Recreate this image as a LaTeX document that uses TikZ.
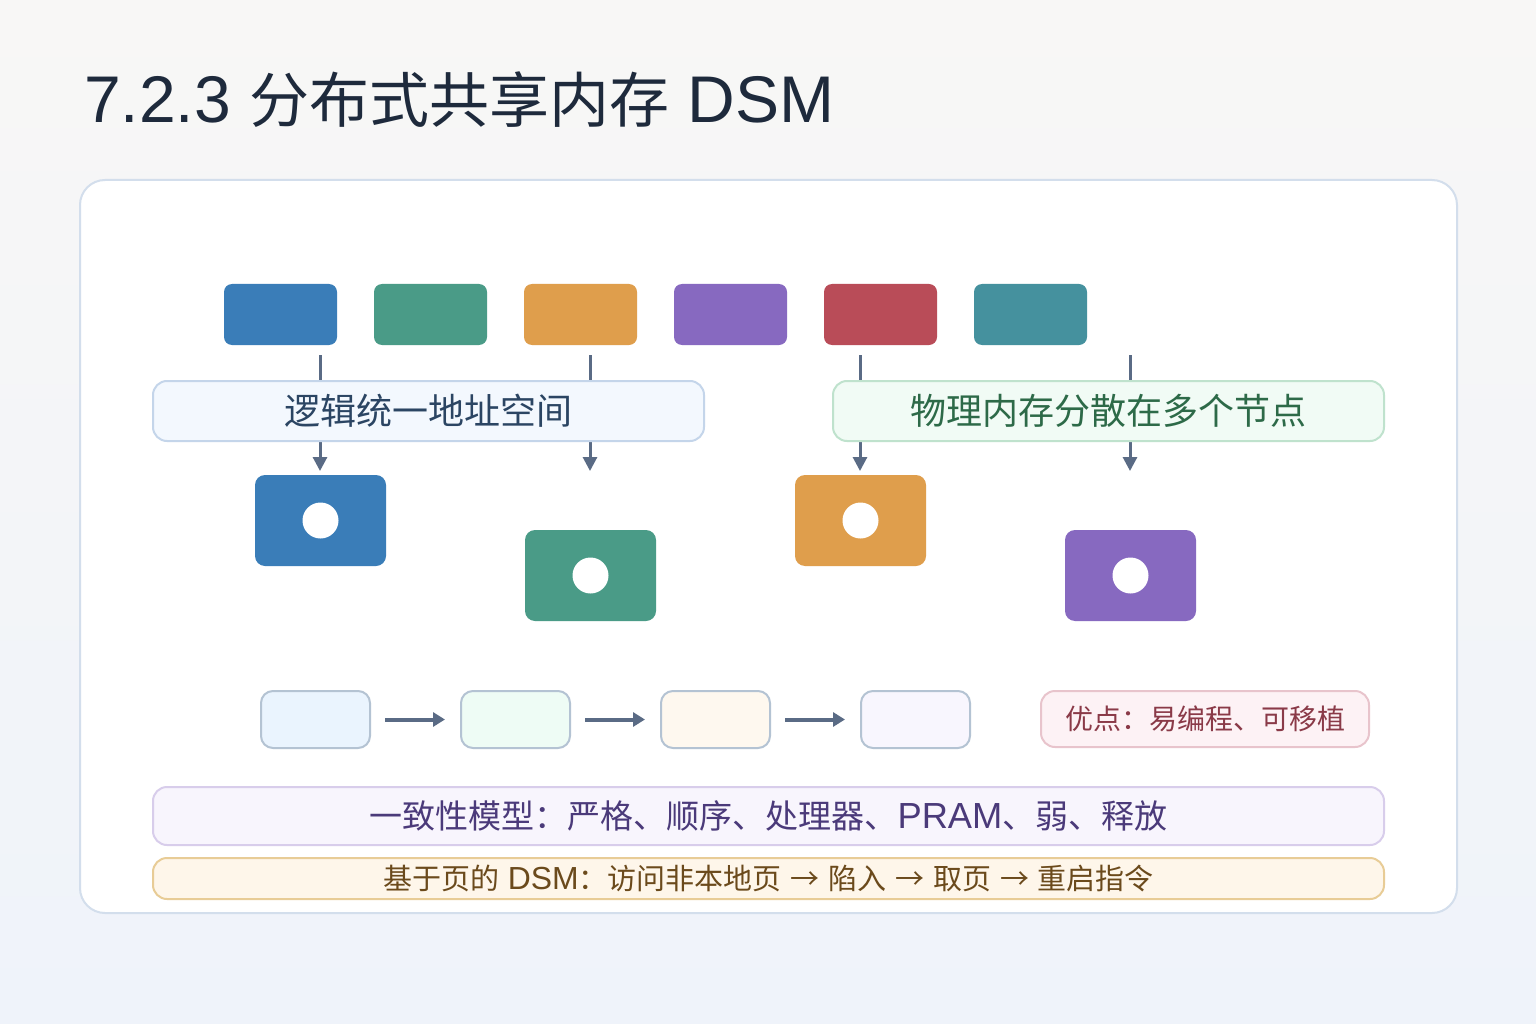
\documentclass[tikz,border=0pt]{standalone}
\usepackage{fontspec}
\setmainfont{Liberation Sans}[Scale=1.1]
\newfontfamily\cjk{Noto Sans CJK SC}
\usetikzlibrary{arrows.meta}
\definecolor{bgtop}{HTML}{F8F7F6}
\definecolor{bgbot}{HTML}{EFF3FA}
\definecolor{panelb}{HTML}{D3DEEC}
\definecolor{titlec}{HTML}{1E2A3C}
\definecolor{cblue}{HTML}{3A7DB8}
\definecolor{cgreen}{HTML}{4A9B87}
\definecolor{corange}{HTML}{DF9E4C}
\definecolor{cpurple}{HTML}{8769C0}
\definecolor{cred}{HTML}{B94C58}
\definecolor{cteal}{HTML}{45919E}
\definecolor{linec}{HTML}{5A6B85}
\definecolor{lab1f}{HTML}{F3F8FE}
\definecolor{lab1b}{HTML}{C4D5EA}
\definecolor{lab1t}{HTML}{2B4563}
\definecolor{lab2f}{HTML}{F1FBF5}
\definecolor{lab2b}{HTML}{BFE2CD}
\definecolor{lab2t}{HTML}{2D6A48}
\definecolor{sb}{HTML}{B4C3D3}
\definecolor{s1}{HTML}{EAF4FE}
\definecolor{s2}{HTML}{EEFCF5}
\definecolor{s3}{HTML}{FEF8EF}
\definecolor{s4}{HTML}{F8F6FE}
\definecolor{pkf}{HTML}{FDF2F5}
\definecolor{pkb}{HTML}{E8C4CC}
\definecolor{pkt}{HTML}{8A3A48}
\definecolor{puf}{HTML}{F8F5FD}
\definecolor{pub}{HTML}{D8CDEB}
\definecolor{put}{HTML}{4B3A7A}
\definecolor{orf}{HTML}{FEF6EA}
\definecolor{orb}{HTML}{E8CC96}
\definecolor{ort}{HTML}{6B4A1C}
\tikzset{
  topblk/.style={rectangle, rounded corners=8pt, minimum width=113pt, minimum height=61pt, inner sep=0pt},
  memblk/.style={rectangle, rounded corners=10pt, minimum width=131pt, minimum height=91pt, inner sep=0pt},
  dotc/.style={circle, fill=white, minimum size=36pt, inner sep=0pt},
  labbox/.style={rectangle, rounded corners=14pt, minimum width=551pt, minimum height=60pt, inner sep=0pt, line width=2pt, font=\cjk\fontsize{36pt}{40pt}\selectfont},
  vline/.style={draw=linec, line width=3pt, -{Triangle[length=14pt,width=14pt]}},
  hline/.style={draw=linec, line width=4pt, -{Triangle[length=12pt,width=14pt]}, shorten <=14pt, shorten >=15pt},
  stepbx/.style={rectangle, rounded corners=12pt, minimum width=109pt, minimum height=57pt, inner sep=0pt, draw=sb, line width=2pt},
  widebx/.style={rectangle, rounded corners=14pt, minimum width=1231pt, inner sep=0pt, line width=2pt},
}
\begin{document}
\begin{tikzpicture}[x=1pt, y=-1pt]
\useasboundingbox (0,0) rectangle (1536,1024);
\shade[top color=bgtop, bottom color=bgbot] (0,0) rectangle (1536,1024);
\node[anchor=base west, text=titlec, inner sep=0pt, font=\fontsize{60pt}{70pt}\selectfont] (title) at (84,123) {7.2.3 {\cjk 分布式共享内存} DSM};
\draw[draw=panelb, fill=white, line width=2pt, rounded corners=25pt] (80,180) rectangle (1457,913);
% top blocks
\node[topblk, fill=cblue] (a1) at (280.5,314.5) {};
\node[topblk, fill=cgreen] (a2) at (430.5,314.5) {};
\node[topblk, fill=corange] (a3) at (580.5,314.5) {};
\node[topblk, fill=cpurple] (a4) at (730.5,314.5) {};
\node[topblk, fill=cred] (a5) at (880.5,314.5) {};
\node[topblk, fill=cteal] (a6) at (1030.5,314.5) {};
% vertical connectors
\coordinate (u1) at (320,355); \coordinate (d1) at (320,471);
\coordinate (u2) at (590,355); \coordinate (d2) at (590,471);
\coordinate (u3) at (860,355); \coordinate (d3) at (860,471);
\coordinate (u4) at (1130,355); \coordinate (d4) at (1130,471);
\draw[vline] (u1) -- (d1);
\draw[vline] (u2) -- (d2);
\draw[vline] (u3) -- (d3);
\draw[vline] (u4) -- (d4);
% label boxes
\node[labbox, fill=lab1f, draw=lab1b, text=lab1t] (l1) at (428.5,411) {逻辑统一地址空间};
\node[labbox, fill=lab2f, draw=lab2b, text=lab2t] (l2) at (1108.5,411) {物理内存分散在多个节点};
% memory nodes
\node[memblk, fill=cblue] (m1) at (320.5,520.5) {};
\node[memblk, fill=cgreen] (m2) at (590.5,575.5) {};
\node[memblk, fill=corange] (m3) at (860.5,520.5) {};
\node[memblk, fill=cpurple] (m4) at (1130.5,575.5) {};
\node[dotc] (c1) at (m1.center) {};
\node[dotc] (c2) at (m2.center) {};
\node[dotc] (c3) at (m3.center) {};
\node[dotc] (c4) at (m4.center) {};
% step boxes
\node[stepbx, fill=s1] (s1) at (315.5,719.5) {};
\node[stepbx, fill=s2] (s2) at (515.5,719.5) {};
\node[stepbx, fill=s3] (s3) at (715.5,719.5) {};
\node[stepbx, fill=s4] (s4) at (915.5,719.5) {};
\draw[hline] (s1.east) -- (s2.west);
\draw[hline] (s2.east) -- (s3.west);
\draw[hline] (s3.east) -- (s4.west);
% pink
\node[rectangle, rounded corners=14pt, minimum width=328pt, minimum height=56pt, inner sep=0pt, line width=2pt, fill=pkf, draw=pkb, text=pkt, font=\cjk\fontsize{28pt}{32pt}\selectfont] (pro) at (1205,719) {优点：易编程、可移植};
% wide boxes
\node[widebx, minimum height=58pt, fill=puf, draw=pub, text=put, font=\fontsize{33pt}{36pt}\selectfont] (cons) at (768.5,816) {{\cjk 一致性模型：严格、顺序、处理器、}PRAM{\cjk 、弱、释放}};
\node[widebx, minimum height=41pt, fill=orf, draw=orb, text=ort, font=\fontsize{29pt}{32pt}\selectfont] (page) at (768.5,878.5) {{\cjk 基于页的} DSM{\cjk ：访问非本地页} {\cjk →} {\cjk 陷入} {\cjk →} {\cjk 取页} {\cjk →} {\cjk 重启指令}};
\end{tikzpicture}
\end{document}
